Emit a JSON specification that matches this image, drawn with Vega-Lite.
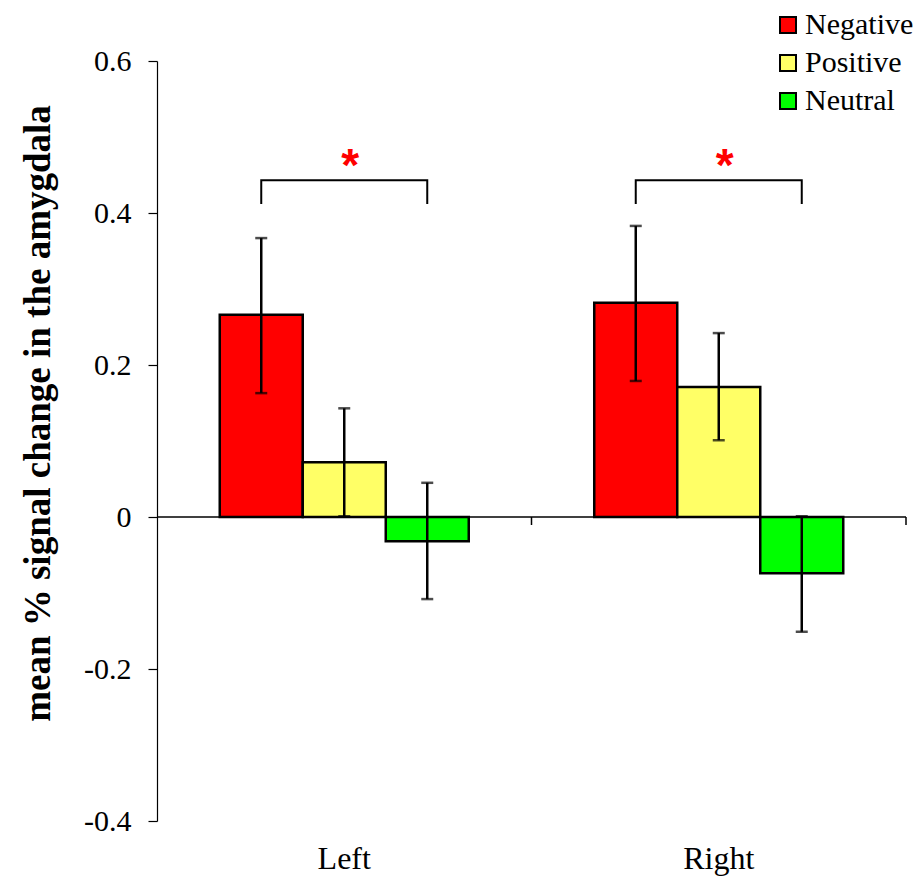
{
  "$schema": "https://vega.github.io/schema/vega-lite/v6.json",
  "width": 749,
  "height": 760,
  "autosize": {"type": "none"},
  "padding": {"left": 157, "top": 61, "right": 16, "bottom": 57},
  "background": "white",
  "config": {
    "view": {"stroke": null},
    "font": "Liberation Serif"
  },
  "datasets": {
    "bars": [
      {"side": "Left", "condition": "Negative", "mean": 0.266, "lo": 0.163, "hi": 0.367},
      {"side": "Left", "condition": "Positive", "mean": 0.072, "lo": 0.001, "hi": 0.143},
      {"side": "Left", "condition": "Neutral", "mean": -0.032, "lo": -0.108, "hi": 0.045},
      {"side": "Right", "condition": "Negative", "mean": 0.282, "lo": 0.179, "hi": 0.383},
      {"side": "Right", "condition": "Positive", "mean": 0.171, "lo": 0.101, "hi": 0.242},
      {"side": "Right", "condition": "Neutral", "mean": -0.074, "lo": -0.151, "hi": 0.001}
    ],
    "brackets": [
      {"side": "Left", "condition": "Negative", "y": 0.412, "ord": 1},
      {"side": "Left", "condition": "Negative", "y": 0.443, "ord": 2},
      {"side": "Left", "condition": "Neutral", "y": 0.443, "ord": 3},
      {"side": "Left", "condition": "Neutral", "y": 0.412, "ord": 4},
      {"side": "Right", "condition": "Negative", "y": 0.412, "ord": 1},
      {"side": "Right", "condition": "Negative", "y": 0.443, "ord": 2},
      {"side": "Right", "condition": "Neutral", "y": 0.443, "ord": 3},
      {"side": "Right", "condition": "Neutral", "y": 0.412, "ord": 4}
    ],
    "stars": [
      {"side": "Left", "condition": "Positive", "y": 0.442, "label": "*"},
      {"side": "Right", "condition": "Positive", "y": 0.442, "label": "*"}
    ],
    "sides": [
      {"side": "Left", "top": 0, "bottom": -0.0105},
      {"side": "Right", "top": 0, "bottom": -0.0105}
    ],
    "zero": [
      {"value": 0}
    ]
  },
  "layer": [
    {
      "data": {"name": "bars"},
      "mark": {"type": "bar", "stroke": "black", "strokeWidth": 2.5},
      "encoding": {
        "x": {
          "field": "side", "type": "nominal",
          "scale": {"type": "band", "paddingInner": 0, "paddingOuter": 0, "domain": ["Left", "Right"]},
          "axis": {
            "title": null, "labelAngle": 0, "domain": false, "ticks": false,
            "labelFontSize": 32, "labelColor": "black", "labelPadding": 22,
            "labelFont": "Liberation Serif"
          }
        },
        "xOffset": {
          "field": "condition", "type": "nominal",
          "scale": {"domain": ["Negative", "Positive", "Neutral"], "paddingInner": 0, "paddingOuter": 0.756}
        },
        "y": {
          "field": "mean", "type": "quantitative",
          "scale": {"domain": [-0.4, 0.6], "nice": false, "zero": false},
          "axis": {
            "title": "mean % signal change in the amygdala",
            "values": [-0.4, -0.2, 0, 0.2, 0.4, 0.6],
            "labelExpr": "datum.value == 0 ? '0' : (datum.value < 0 ? '-' + format(-datum.value, '.1f') : format(datum.value, '.1f'))",
            "grid": false,
            "domainColor": "black", "domainWidth": 1.2,
            "tickColor": "black", "tickWidth": 1.2, "tickSize": 9,
            "labelFontSize": 30, "labelColor": "black", "labelPadding": 17,
            "labelFont": "Liberation Serif",
            "titleFont": "Liberation Serif", "titleFontSize": 37, "titleFontWeight": "bold",
            "titleColor": "black", "titleX": -119, "titleY": 352, "titleAngle": -90,
            "titleBaseline": "middle", "titleAlign": "center"
          }
        },
        "y2": {"datum": 0},
        "fill": {
          "field": "condition", "type": "nominal",
          "scale": {"domain": ["Negative", "Positive", "Neutral"], "range": ["#ff0000", "#ffff66", "#00ff00"]},
          "legend": {
            "title": null, "orient": "none", "legendX": 616, "legendY": -51,
            "symbolType": "square", "symbolSize": 256, "symbolStrokeColor": "black",
            "symbolStrokeWidth": 2, "symbolOpacity": 1,
            "labelFontSize": 30, "labelFont": "Liberation Serif", "labelColor": "black",
            "labelOffset": 2, "rowPadding": 8, "padding": 0
          }
        }
      }
    },
    {
      "data": {"name": "bars"},
      "mark": {"type": "rule", "color": "black", "strokeWidth": 2.5},
      "encoding": {
        "x": {"field": "side", "type": "nominal"},
        "xOffset": {"field": "condition", "type": "nominal"},
        "y": {"field": "lo", "type": "quantitative"},
        "y2": {"field": "hi"}
      }
    },
    {
      "data": {"name": "bars"},
      "mark": {"type": "tick", "color": "black", "thickness": 2.5, "size": 12, "orient": "horizontal"},
      "encoding": {
        "x": {"field": "side", "type": "nominal"},
        "xOffset": {"field": "condition", "type": "nominal"},
        "y": {"field": "lo", "type": "quantitative"}
      }
    },
    {
      "data": {"name": "bars"},
      "mark": {"type": "tick", "color": "black", "thickness": 2.5, "size": 12, "orient": "horizontal"},
      "encoding": {
        "x": {"field": "side", "type": "nominal"},
        "xOffset": {"field": "condition", "type": "nominal"},
        "y": {"field": "hi", "type": "quantitative"}
      }
    },
    {
      "data": {"name": "zero"},
      "mark": {"type": "rule", "color": "black", "strokeWidth": 1.5},
      "encoding": {"y": {"field": "value", "type": "quantitative"}}
    },
    {
      "data": {"name": "sides"},
      "mark": {"type": "rule", "color": "black", "strokeWidth": 1.5},
      "encoding": {
        "x": {"field": "side", "type": "nominal", "bandPosition": 1},
        "y": {"field": "top", "type": "quantitative"},
        "y2": {"field": "bottom"}
      }
    },
    {
      "data": {"name": "brackets"},
      "mark": {"type": "line", "color": "black", "strokeWidth": 2},
      "encoding": {
        "x": {"field": "side", "type": "nominal"},
        "xOffset": {"field": "condition", "type": "nominal"},
        "y": {"field": "y", "type": "quantitative"},
        "detail": {"field": "side"},
        "order": {"field": "ord", "type": "quantitative"}
      }
    },
    {
      "data": {"name": "stars"},
      "mark": {"type": "text", "color": "#ff0000", "font": "Liberation Sans", "fontSize": 46, "fontWeight": "bold", "baseline": "alphabetic", "dx": 6},
      "encoding": {
        "x": {"field": "side", "type": "nominal"},
        "xOffset": {"field": "condition", "type": "nominal"},
        "y": {"field": "y", "type": "quantitative"},
        "text": {"field": "label"}
      }
    }
  ]
}
